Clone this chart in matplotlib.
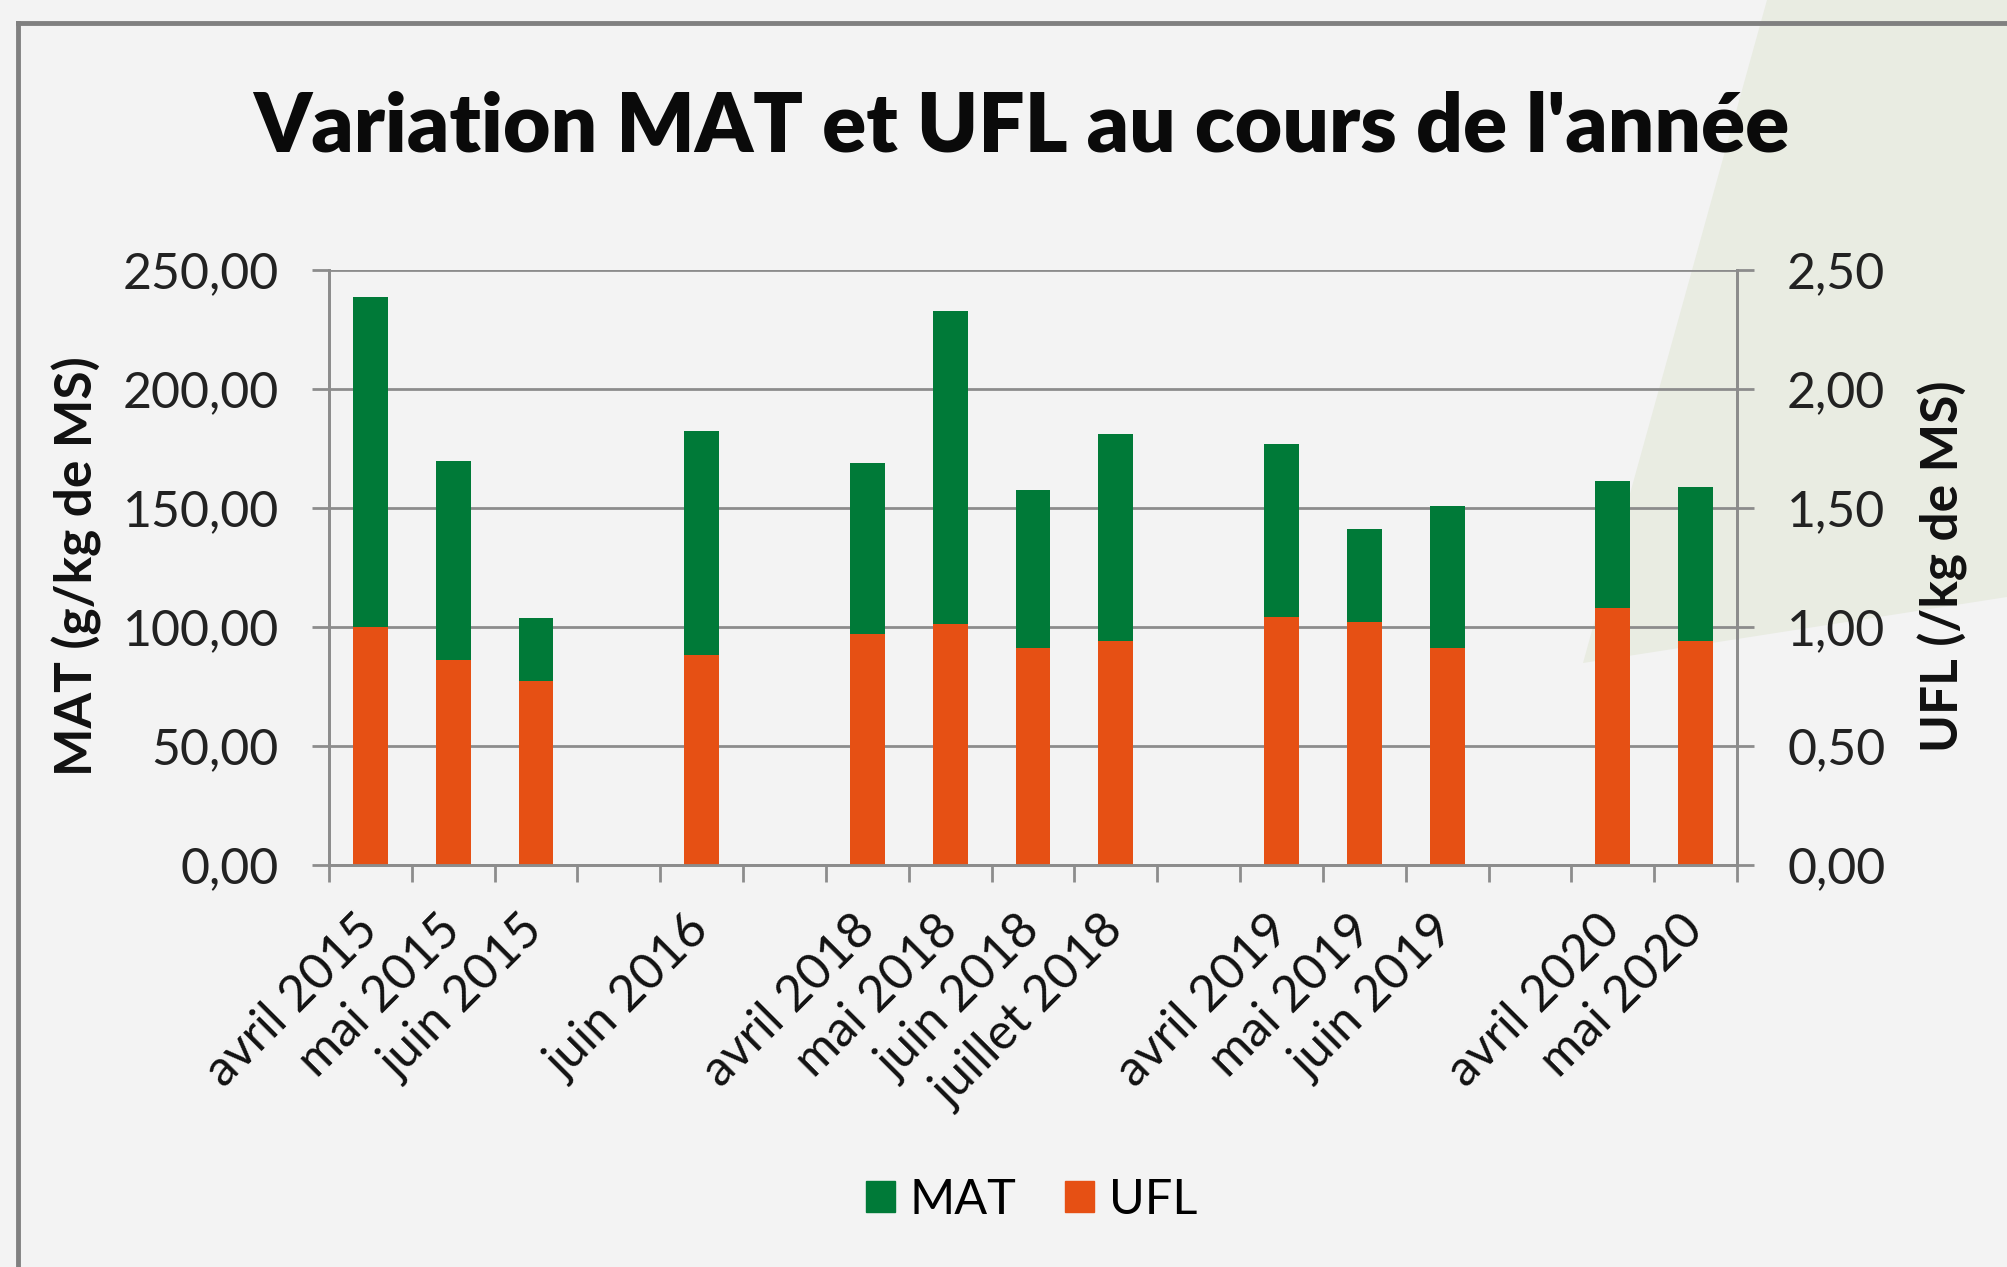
import matplotlib.pyplot as plt
import matplotlib.patches as mpatches
from matplotlib.lines import Line2D
import numpy as np

# slots of the category axis (empty strings are gaps in the dates)
categories = ["avril 2015", "mai 2015", "juin 2015", "", "juin 2016", "",
              "avril 2018", "mai 2018", "juin 2018", "juillet 2018", "",
              "avril 2019", "mai 2019", "juin 2019", "", "avril 2020", "mai 2020"]
mat = [238.6, 169.9, 103.5, np.nan, 182.4, np.nan,
       168.9, 232.9, 157.7, 181.2, np.nan,
       176.7, 140.9, 150.8, np.nan, 161.1, 158.8]
ufl = [1.00, 0.86, 0.77, np.nan, 0.88, np.nan,
       0.97, 1.01, 0.91, 0.94, np.nan,
       1.04, 1.02, 0.91, np.nan, 1.08, 0.94]

green = "#007a38"
orange = "#e65014"
grid_col = "#8c8c8c"
font = "Lato"
plt.rcParams['font.family'] = [font, 'DejaVu Sans']

fig = plt.figure(figsize=(20.07, 12.67), dpi=100)
fig.patch.set_facecolor("#f3f3f3")

# pale green shape on the right side of the slide
poly = mpatches.Polygon([(1767 / 2007, 1.0), (1.0, 1.0), (1.0, 1 - 597 / 1267), (1583 / 2007, 1 - 663 / 1267)],
                        closed=True, transform=fig.transFigure, facecolor="#e9ece2", edgecolor="none", zorder=-5)
fig.patches.append(poly)

# frame of the chart
fig.lines.append(Line2D([18 / 2007, 1.0], [1 - 23 / 1267, 1 - 23 / 1267], transform=fig.transFigure,
                        color="#808080", lw=3.5))
fig.lines.append(Line2D([18 / 2007, 18 / 2007], [0.0, 1 - 23 / 1267], transform=fig.transFigure,
                        color="#808080", lw=3.5))

ax = fig.add_axes([0.1639, 0.3176, 0.7016, 0.4693])
ax.set_facecolor("none")
ax2 = ax.twinx()

x = np.arange(len(categories))
w = 0.42
ax.bar(x, mat, width=w, color=green, zorder=2)
ax2.bar(x, ufl, width=w, color=orange, zorder=2)

ax.set_xlim(-0.5, len(categories) - 0.5)
ax.set_ylim(0, 250)
ax2.set_ylim(0, 2.5)
ax.set_yticks(np.arange(0, 251, 50))
ax2.set_yticks(np.arange(0, 2.51, 0.5))
ax.set_yticklabels([f"{v:.2f}".replace(".", ",") for v in np.arange(0, 251, 50)],
                   fontsize=36, color="#222222", family=font)
ax2.set_yticklabels([f"{v:.2f}".replace(".", ",") for v in np.arange(0, 2.51, 0.5)],
                    fontsize=36, color="#222222", family=font)

ax.set_axisbelow(True)
ax.yaxis.grid(True, color=grid_col, lw=2)
for a in (ax, ax2):
    for s in a.spines.values():
        s.set_color(grid_col)
        s.set_linewidth(2)
    a.spines["top"].set_visible(False)
ax.tick_params(axis="y", length=12, width=2, color=grid_col, pad=24)
ax2.tick_params(axis="y", length=12, width=2, color=grid_col, pad=24)

ax.set_xticks(x)
ax.set_xticks(np.arange(-0.5, len(categories)), minor=True)
ax.tick_params(axis="x", which="major", length=0, pad=42)
ax.tick_params(axis="x", which="minor", length=12, width=2, color=grid_col)
ax.set_xticklabels(categories, rotation=45, ha="right", va="center", rotation_mode="anchor",
                   fontsize=36, color="#111111", family=font)

fig.text(0.509, 0.899, "Variation MAT et UFL au cours de l'année", ha="center", va="center",
         fontsize=59, fontweight="heavy", family=font, color="#0a0a0a")
fig.text(0.0384, 0.553, "MAT (g/kg de MS)", rotation=90, ha="center", va="center",
         fontsize=37, fontweight="bold", family=font, color="#111111")
fig.text(0.968, 0.553, "UFL (/kg de MS)", rotation=90, ha="center", va="center",
         fontsize=37, fontweight="bold", family=font, color="#111111")

handles = [mpatches.Patch(color=green, label="MAT"), mpatches.Patch(color=orange, label="UFL")]
fig.legend(handles=handles, loc="center", bbox_to_anchor=(0.514, 0.053), ncol=2, frameon=False,
           fontsize=35, handlelength=0.6, handleheight=0.6, handletextpad=0.3, columnspacing=1.0)

fig.savefig("out.png", dpi=100, facecolor=fig.get_facecolor())
